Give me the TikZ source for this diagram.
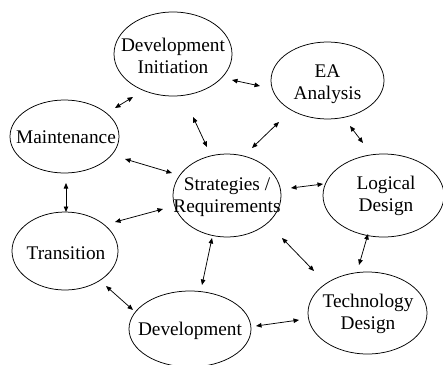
\documentclass[tikz,border=0pt]{standalone}
\usepackage{fontspec}
\setmainfont{Liberation Serif}
\usetikzlibrary{arrows.meta,shapes.geometric}
\tikzset{
  phase/.style={draw, ellipse, line width=0.75pt, inner sep=0pt},
  txt/.style={inner sep=0pt, align=center, font=\fontsize{19.3}{22.5}\selectfont},
  link/.style={line width=0.75pt, {Triangle[length=5.5pt,width=4.5pt]}-{Triangle[length=5.5pt,width=4.5pt]}}
}
\begin{document}
\begin{tikzpicture}[x=1pt,y=-1pt]
\useasboundingbox (0,0) rectangle (443,364);
\clip (0,0) rectangle (443,364);
\fill[white] (0,0) rectangle (443,364);
% ellipses
\node[phase, minimum width=118pt, minimum height=84pt] (di) at (173,54) {};
\node[txt] (dit) at (173,56) {Development\\Initiation};
\node[phase, minimum width=113pt, minimum height=77pt] (ea) at (327.5,80.5) {};
\node[txt] (eat) at (327.5,84) {EA\\Analysis};
\node[phase, minimum width=109pt, minimum height=73pt] (mt) at (64.5,136.5) {};
\node[txt] (mtt) at (66,137) {Maintenance};
\node[phase, minimum width=108pt, minimum height=83pt] (sr) at (227,195.5) {};
\node[txt] (srt) at (227,197) {Strategies /\\Requirements};
\node[phase, minimum width=121pt, minimum height=83pt] (ld) at (383.5,195.5) {};
\node[txt] (ldt) at (386,196) {Logical\\Design};
\node[phase, minimum width=106pt, minimum height=78pt] (tr) at (65,251) {};
\node[txt] (trt) at (66,253) {Transition};
\node[phase, minimum width=122pt, minimum height=76pt] (dv) at (190,329) {};
\node[txt] (dvt) at (190,331) {Development};
\node[phase, minimum width=119pt, minimum height=82pt] (td) at (367.5,313) {};
\node[txt] (tdt) at (368,314) {Technology\\Design};
% arrow end points
\coordinate (a1) at (232,80);  \coordinate (b1) at (260,86);
\coordinate (a2) at (115,108); \coordinate (b2) at (133,97);
\coordinate (a3) at (193,117); \coordinate (b3) at (207,147);
\coordinate (a4) at (279,122); \coordinate (b4) at (252,148);
\coordinate (a5) at (350,126); \coordinate (b5) at (363,143);
\coordinate (a6) at (125,159); \coordinate (b6) at (172,173);
\coordinate (a7) at (66,183);  \coordinate (b7) at (66,212);
\coordinate (a8) at (115,222); \coordinate (b8) at (163,209);
\coordinate (a9) at (291,188); \coordinate (b9) at (323,184);
\coordinate (a10) at (212,238); \coordinate (b10) at (202,285);
\coordinate (a11) at (282,238); \coordinate (b11) at (314,271);
\coordinate (a12) at (368,234); \coordinate (b12) at (359,265);
\coordinate (a13) at (106,286); \coordinate (b13) at (133,310);
\coordinate (a14) at (256,326); \coordinate (b14) at (299,320);
\foreach \i in {1,...,14} { \draw[link] (a\i) -- (b\i); }
\end{tikzpicture}
\end{document}
